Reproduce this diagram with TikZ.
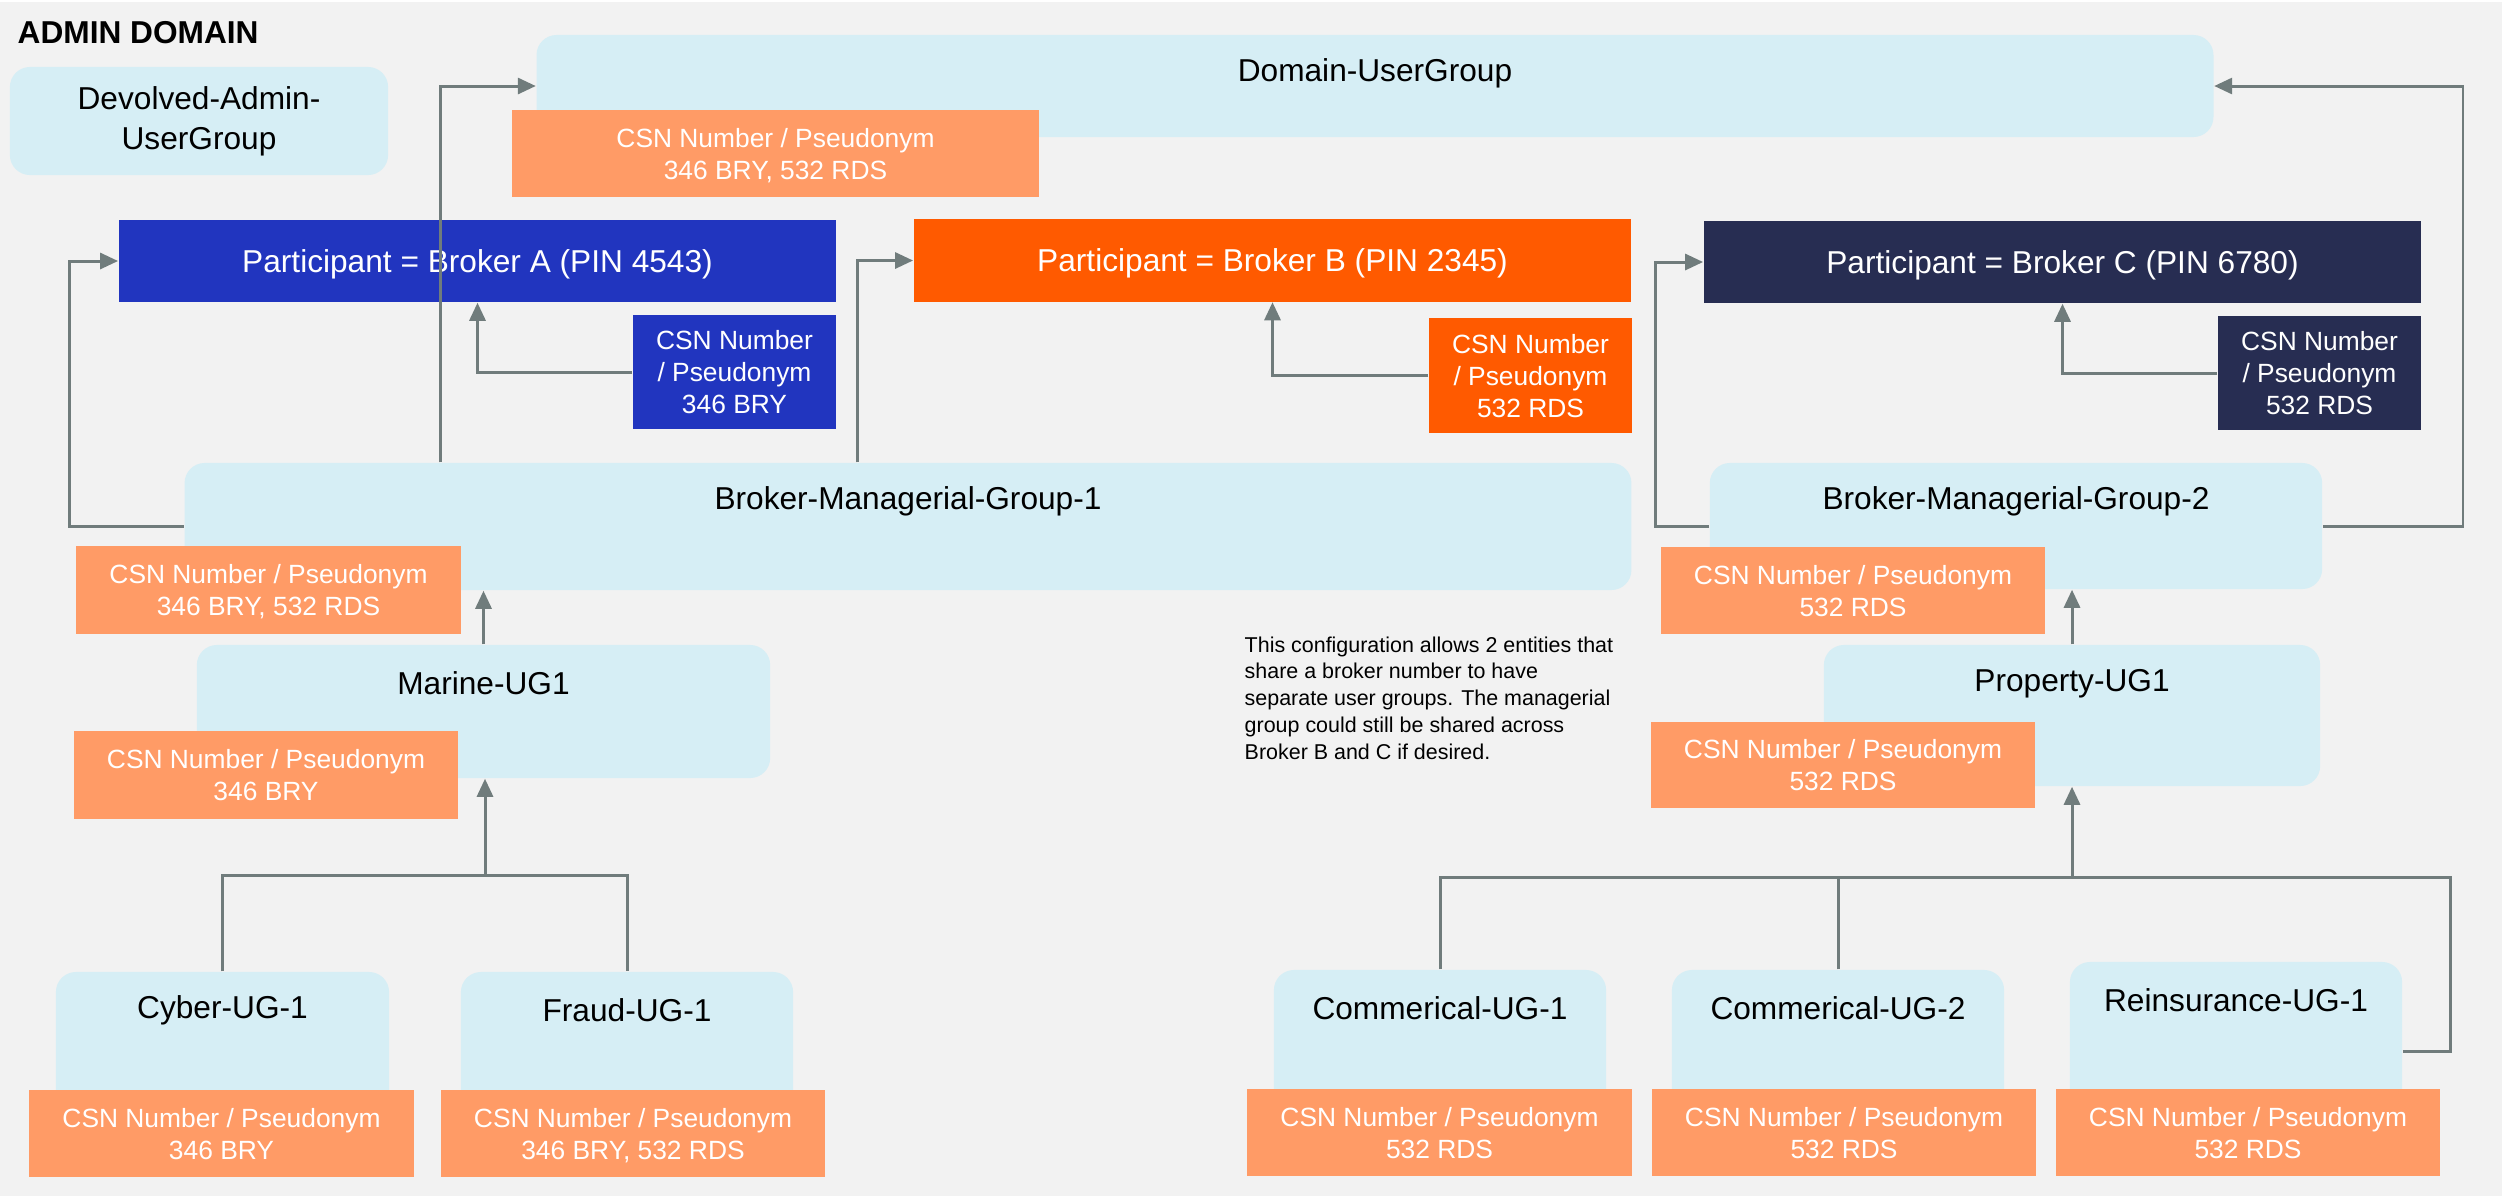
\documentclass[tikz,border=0pt]{standalone}
\usepackage{fontspec}
\setmainfont{Liberation Sans}
\usetikzlibrary{arrows.meta}
\definecolor{bggray}{RGB}{242,242,242}
\definecolor{ugblue}{RGB}{214,238,245}
\definecolor{csnorange}{RGB}{255,155,102}
\definecolor{brokera}{RGB}{33,53,191}
\definecolor{brokerb}{RGB}{255,90,0}
\definecolor{brokerc}{RGB}{39,45,82}
\definecolor{linkgray}{RGB}{112,124,124}
\begin{document}
\begin{tikzpicture}[x=0.01cm,y=-0.01cm,
  ug/.style={fill=ugblue,rounded corners=0.2cm,inner sep=0pt,align=center,font=\fontsize{9}{11.4}\selectfont},
  ugl/.style={label={[anchor=center,yshift=-0.39cm,font=\fontsize{9}{11}\selectfont]north:#1}},
  csn/.style={fill=csnorange,text=white,inner sep=0pt,text depth=0pt,align=center,font=\fontsize{7.5}{9.1}\selectfont},
  csnwide/.style={csn,minimum width=3.84cm,minimum height=0.87cm},
  part/.style={text=white,inner sep=0pt,text depth=0pt,minimum width=7.17cm,minimum height=0.82cm,font=\fontsize{9}{11}\selectfont},
  link/.style={draw=linkgray,line width=0.85pt},
  arr/.style={link,-{Triangle[length=0.18cm,width=0.16cm]}}]
\useasboundingbox (0,0) rectangle (2509,1196);
\fill [bggray] (0,2) rectangle (2502,1196);
\node [anchor=base west,inner sep=0pt,font=\bfseries\fontsize{9}{11}\selectfont] (title) at (17,43) {ADMIN DOMAIN};

\node [ug,minimum width=16.76cm,minimum height=1.02cm,ugl=Domain-UserGroup] (dom) at (1375,86) {};
\node [ug,minimum width=3.78cm,minimum height=1.08cm] (dev) at (199,121) {Devolved-Admin-\\UserGroup};
\node [ug,minimum width=14.46cm,minimum height=1.27cm,ugl=Broker-Managerial-Group-1] (bmg1) at (908,526.5) {};
\node [ug,minimum width=6.12cm,minimum height=1.26cm,ugl=Broker-Managerial-Group-2] (bmg2) at (2016,526) {};
\node [ug,minimum width=5.73cm,minimum height=1.33cm,ugl=Marine-UG1] (mar) at (483.5,711.5) {};
\node [ug,minimum width=4.96cm,minimum height=1.41cm,ugl=Property-UG1] (prop) at (2072,715.5) {};
\node [ug,minimum width=3.33cm,minimum height=1.38cm,ugl=Cyber-UG-1] (cyb) at (222.5,1041) {};
\node [ug,minimum width=3.32cm,minimum height=1.38cm,ugl=Fraud-UG-1] (fra) at (627,1041) {};
\node [ug,minimum width=3.32cm,minimum height=1.40cm,ugl=Commerical-UG-1] (com1) at (1440,1040) {};
\node [ug,minimum width=3.32cm,minimum height=1.40cm,ugl=Commerical-UG-2] (com2) at (1838,1040) {};
\node [ug,minimum width=3.32cm,minimum height=1.48cm,ugl=Reinsurance-UG-1] (rei) at (2236,1036) {};

\node [csn,minimum width=5.27cm,minimum height=0.87cm] (domcsn) at (775.5,153.5) {CSN Number / Pseudonym\\346 BRY, 532 RDS};
\node [csnwide] (bmg1csn) at (268.5,590) {CSN Number / Pseudonym\\346 BRY, 532 RDS};
\node [csnwide] (bmg2csn) at (1853,590.5) {CSN Number / Pseudonym\\532 RDS};
\node [csnwide] (marcsn) at (266,775) {CSN Number / Pseudonym\\346 BRY};
\node [csnwide,minimum height=0.86cm] (propcsn) at (1843,765) {CSN Number / Pseudonym\\532 RDS};
\node [csnwide] (cybcsn) at (221.5,1133.5) {CSN Number / Pseudonym\\346 BRY};
\node [csnwide] (fracsn) at (633,1133.5) {CSN Number / Pseudonym\\346 BRY, 532 RDS};
\node [csnwide] (com1csn) at (1439.5,1132.5) {CSN Number / Pseudonym\\532 RDS};
\node [csnwide] (com2csn) at (1844,1132.5) {CSN Number / Pseudonym\\532 RDS};
\node [csnwide] (reicsn) at (2248,1132.5) {CSN Number / Pseudonym\\532 RDS};

\node [part,fill=brokera] (pa) at (477.5,261) {Participant = Broker A (PIN 4543)};
\node [part,fill=brokerb] (pb) at (1272.5,260.5) {Participant = Broker B (PIN 2345)};
\node [part,fill=brokerc] (pc) at (2062.5,262) {Participant = Broker C (PIN 6780)};
\node [csn,fill=brokera,minimum width=2.03cm,minimum height=1.14cm] (pacsn) at (734.5,372) {CSN Number\\/ Pseudonym\\346 BRY};
\node [csn,fill=brokerb,minimum width=2.03cm,minimum height=1.15cm] (pbcsn) at (1530.5,375.5) {CSN Number\\/ Pseudonym\\532 RDS};
\node [csn,fill=brokerc,minimum width=2.03cm,minimum height=1.14cm] (pccsn) at (2319.5,373) {CSN Number\\/ Pseudonym\\532 RDS};

\node [anchor=north west,align=left,inner sep=0pt,font=\fontsize{6.1}{7.6}\selectfont] (note) at (1244,636) {This configuration allows 2 entities that\\share a broker number to have\\separate user groups. The managerial\\group could still be shared across\\Broker B and C if desired.};

\draw [arr] (pacsn.west) -| (pa.south);
\draw [arr] (pbcsn.west) -| (pb.south);
\draw [arr] (pccsn.west) -| (pc.south);
\draw [arr] (bmg1.west) -- ++(-1.14cm,0) |- (pa.west);
\draw [arr] ([xshift=2.56cm]bmg1.north west) |- (dom.west);
\draw [arr] ([xshift=6.73cm]bmg1.north west) |- (pb.west);
\draw [arr] (bmg2.west) -- ++(-0.54cm,0) |- (pc.west);
\draw [arr] (bmg2.east) -- ++(1.40cm,0) |- (dom.east);
\draw [arr] (mar.north) -- (mar.north |- bmg1.south);
\draw [arr] (prop.north) -- (prop.north |- bmg2.south);

\coordinate (ljn) at (485,875);
\draw [link] (cyb.north) |- (ljn) -| (fra.north);
\draw [arr] (ljn) -- (ljn |- mar.south);
\coordinate (rjn) at (2072,877);
\draw [link] (com1.north) |- (rjn);
\draw [link] (com2.north) |- (rjn);
\draw [link] ([yshift=-0.15cm]rei.east) -- ++(0.48cm,0) |- (rjn);
\draw [arr] (rjn) -- (rjn |- prop.south);
\end{tikzpicture}
\end{document}
